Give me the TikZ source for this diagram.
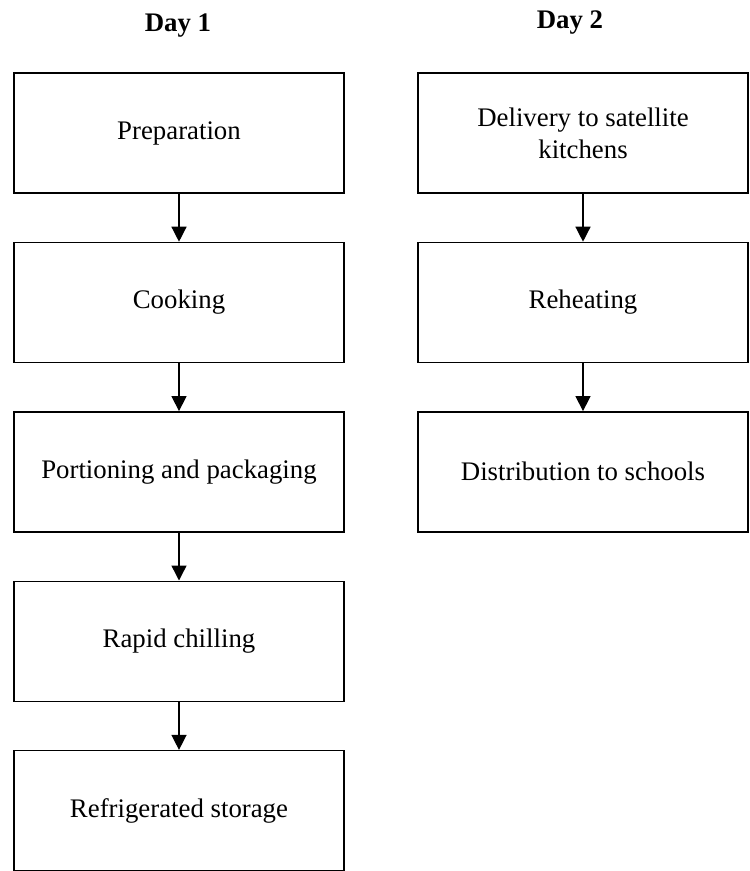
\documentclass[tikz,border=0pt]{standalone}
\usepackage{fontspec}
\setmainfont{Liberation Serif}
\usepackage{tikz}
\usetikzlibrary{arrows.meta, positioning}

\begin{document}
\begin{tikzpicture}[
    node distance=24pt,
    every node/.style={font=\fontsize{13.4}{16}\selectfont},
    stepbox/.style={
        rectangle,
        draw=black,
        line width=0.7pt,
        minimum height=60pt,
        minimum width=165pt,
        text centered,
        align=center
    },
    daylabel/.style={
        anchor=base,
        font=\fontsize{13.4}{16}\selectfont\bfseries
    },
    flowarrow/.style={
        -{Triangle[length=7.5pt, width=7.5pt]},
        line width=0.7pt,
        draw=black
    }
]
\useasboundingbox (0,0) rectangle (374.5pt,-435.5pt);

% Day 1 column
\node[stepbox] (prep) at (89.5pt,-66.5pt) {Preparation};
\node[stepbox, below=of prep] (cook) {Cooking};
\node[stepbox, below=of cook] (portion) {Portioning and packaging};
\node[stepbox, below=of portion] (chill) {Rapid chilling};
\node[stepbox, below=of chill] (store) {Refrigerated storage};

\draw[flowarrow] (prep) -- (cook);
\draw[flowarrow] (cook) -- (portion);
\draw[flowarrow] (portion) -- (chill);
\draw[flowarrow] (chill) -- (store);

% Day 2 column
\node[stepbox, right=36.3pt of prep] (deliver) {Delivery to satellite\\kitchens};
\node[stepbox, below=of deliver] (reheat) {Reheating};
\node[stepbox, below=of reheat] (distrib) {Distribution to schools};

\draw[flowarrow] (deliver) -- (reheat);
\draw[flowarrow] (reheat) -- (distrib);

% Headings
\node[daylabel] (day1) at (89pt,-16pt) {Day 1};
\node[daylabel] (day2) at (285pt,-14.5pt) {Day 2};

\end{tikzpicture}
\end{document}
